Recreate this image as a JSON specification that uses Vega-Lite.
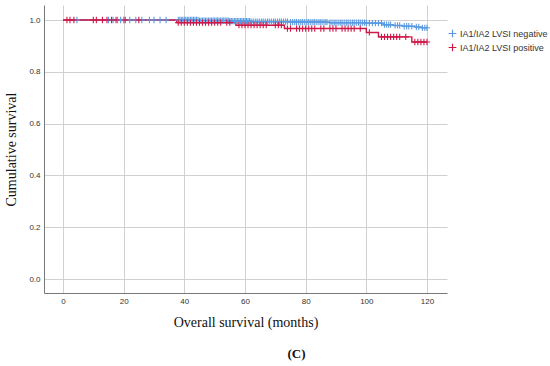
{
  "$schema": "https://vega.github.io/schema/vega-lite/v6.json",
  "width": 403,
  "height": 288,
  "autosize": "none",
  "padding": {"left": 44, "top": 5, "right": 103, "bottom": 73},
  "background": "white",
  "config": {"view": {"stroke": null}},
  "title": {"text": "(C)", "orient": "bottom", "anchor": "middle", "dx": 51, "offset": 19, "font": "Liberation Serif", "fontSize": 13, "fontWeight": "bold", "color": "#111"},
  "datasets": {
    "lines": [
      {"g": "neg", "t": 0, "s": 1}, {"g": "neg", "t": 45, "s": 0.998}, {"g": "neg", "t": 55, "s": 0.996}, {"g": "neg", "t": 62, "s": 0.994}, {"g": "neg", "t": 75, "s": 0.992}, {"g": "neg", "t": 88, "s": 0.99}, {"g": "neg", "t": 100, "s": 0.988}, {"g": "neg", "t": 105.5, "s": 0.982}, {"g": "neg", "t": 109, "s": 0.979}, {"g": "neg", "t": 112, "s": 0.976}, {"g": "neg", "t": 116, "s": 0.973}, {"g": "neg", "t": 118, "s": 0.97}, {"g": "neg", "t": 120, "s": 0.97},
      {"g": "pos", "t": 0, "s": 1}, {"g": "pos", "t": 37.5, "s": 0.99}, {"g": "pos", "t": 57, "s": 0.98}, {"g": "pos", "t": 73, "s": 0.967}, {"g": "pos", "t": 100, "s": 0.952}, {"g": "pos", "t": 104, "s": 0.935}, {"g": "pos", "t": 115, "s": 0.915}, {"g": "pos", "t": 120, "s": 0.915}
    ],
    "censors": [
      {"g": "neg", "t": 4.6, "s": 1}, {"g": "neg", "t": 15, "s": 1}, {"g": "neg", "t": 16.5, "s": 1}, {"g": "neg", "t": 18, "s": 1}, {"g": "neg", "t": 19, "s": 1}, {"g": "neg", "t": 20, "s": 1}, {"g": "neg", "t": 22, "s": 1}, {"g": "neg", "t": 24, "s": 1}, {"g": "neg", "t": 26, "s": 1}, {"g": "neg", "t": 28.5, "s": 1}, {"g": "neg", "t": 30, "s": 1}, {"g": "neg", "t": 32, "s": 1}, {"g": "neg", "t": 34, "s": 1},
      {"g": "neg", "t": 38, "s": 1}, {"g": "neg", "t": 38.5, "s": 1}, {"g": "neg", "t": 39, "s": 1}, {"g": "neg", "t": 39.5, "s": 1}, {"g": "neg", "t": 40, "s": 1}, {"g": "neg", "t": 40.5, "s": 1}, {"g": "neg", "t": 41, "s": 1}, {"g": "neg", "t": 41.5, "s": 1}, {"g": "neg", "t": 42, "s": 1}, {"g": "neg", "t": 42.5, "s": 1}, {"g": "neg", "t": 43, "s": 1}, {"g": "neg", "t": 43.5, "s": 1}, {"g": "neg", "t": 44, "s": 1}, {"g": "neg", "t": 44.5, "s": 1},
      {"g": "neg", "t": 45, "s": 0.998}, {"g": "neg", "t": 45.5, "s": 0.998}, {"g": "neg", "t": 46, "s": 0.998}, {"g": "neg", "t": 46.5, "s": 0.998}, {"g": "neg", "t": 47, "s": 0.998}, {"g": "neg", "t": 47.5, "s": 0.998}, {"g": "neg", "t": 48, "s": 0.998}, {"g": "neg", "t": 48.5, "s": 0.998}, {"g": "neg", "t": 49, "s": 0.998}, {"g": "neg", "t": 49.5, "s": 0.998}, {"g": "neg", "t": 50, "s": 0.998}, {"g": "neg", "t": 50.5, "s": 0.998}, {"g": "neg", "t": 51, "s": 0.998}, {"g": "neg", "t": 51.5, "s": 0.998}, {"g": "neg", "t": 52, "s": 0.998}, {"g": "neg", "t": 52.5, "s": 0.998}, {"g": "neg", "t": 53, "s": 0.998}, {"g": "neg", "t": 53.5, "s": 0.998}, {"g": "neg", "t": 54, "s": 0.998}, {"g": "neg", "t": 54.5, "s": 0.998},
      {"g": "neg", "t": 55, "s": 0.996}, {"g": "neg", "t": 55.5, "s": 0.996}, {"g": "neg", "t": 56, "s": 0.996}, {"g": "neg", "t": 56.5, "s": 0.996}, {"g": "neg", "t": 57, "s": 0.996}, {"g": "neg", "t": 57.5, "s": 0.996}, {"g": "neg", "t": 58, "s": 0.996}, {"g": "neg", "t": 58.5, "s": 0.996}, {"g": "neg", "t": 59, "s": 0.996}, {"g": "neg", "t": 59.5, "s": 0.996}, {"g": "neg", "t": 60, "s": 0.996}, {"g": "neg", "t": 60.5, "s": 0.996}, {"g": "neg", "t": 61, "s": 0.996}, {"g": "neg", "t": 61.5, "s": 0.996},
      {"g": "neg", "t": 62, "s": 0.994}, {"g": "neg", "t": 62.7, "s": 0.994}, {"g": "neg", "t": 63.4, "s": 0.994}, {"g": "neg", "t": 64, "s": 0.994}, {"g": "neg", "t": 64.7, "s": 0.994}, {"g": "neg", "t": 65.4, "s": 0.994}, {"g": "neg", "t": 66, "s": 0.994}, {"g": "neg", "t": 66.7, "s": 0.994}, {"g": "neg", "t": 67.4, "s": 0.994}, {"g": "neg", "t": 68, "s": 0.994}, {"g": "neg", "t": 68.7, "s": 0.994}, {"g": "neg", "t": 69.4, "s": 0.994}, {"g": "neg", "t": 70, "s": 0.994}, {"g": "neg", "t": 70.7, "s": 0.994}, {"g": "neg", "t": 71.4, "s": 0.994}, {"g": "neg", "t": 72, "s": 0.994}, {"g": "neg", "t": 72.7, "s": 0.994}, {"g": "neg", "t": 73.4, "s": 0.994}, {"g": "neg", "t": 74, "s": 0.994},
      {"g": "neg", "t": 75, "s": 0.992}, {"g": "neg", "t": 75.7, "s": 0.992}, {"g": "neg", "t": 76.4, "s": 0.992}, {"g": "neg", "t": 77, "s": 0.992}, {"g": "neg", "t": 77.7, "s": 0.992}, {"g": "neg", "t": 78.4, "s": 0.992}, {"g": "neg", "t": 79, "s": 0.992}, {"g": "neg", "t": 79.7, "s": 0.992}, {"g": "neg", "t": 80.4, "s": 0.992}, {"g": "neg", "t": 81, "s": 0.992}, {"g": "neg", "t": 81.7, "s": 0.992}, {"g": "neg", "t": 82.4, "s": 0.992}, {"g": "neg", "t": 83, "s": 0.992}, {"g": "neg", "t": 83.7, "s": 0.992}, {"g": "neg", "t": 84.4, "s": 0.992}, {"g": "neg", "t": 85, "s": 0.992}, {"g": "neg", "t": 85.7, "s": 0.992}, {"g": "neg", "t": 86.4, "s": 0.992}, {"g": "neg", "t": 87, "s": 0.992},
      {"g": "neg", "t": 88, "s": 0.99}, {"g": "neg", "t": 88.7, "s": 0.99}, {"g": "neg", "t": 89.4, "s": 0.99}, {"g": "neg", "t": 90, "s": 0.99}, {"g": "neg", "t": 90.7, "s": 0.99}, {"g": "neg", "t": 91.4, "s": 0.99}, {"g": "neg", "t": 92, "s": 0.99}, {"g": "neg", "t": 92.7, "s": 0.99}, {"g": "neg", "t": 93.4, "s": 0.99}, {"g": "neg", "t": 94, "s": 0.99}, {"g": "neg", "t": 94.7, "s": 0.99}, {"g": "neg", "t": 95.4, "s": 0.99}, {"g": "neg", "t": 96, "s": 0.99}, {"g": "neg", "t": 96.7, "s": 0.99}, {"g": "neg", "t": 97.4, "s": 0.99}, {"g": "neg", "t": 98, "s": 0.99}, {"g": "neg", "t": 98.7, "s": 0.99}, {"g": "neg", "t": 99.4, "s": 0.99},
      {"g": "neg", "t": 100, "s": 0.988}, {"g": "neg", "t": 101, "s": 0.988}, {"g": "neg", "t": 102, "s": 0.988}, {"g": "neg", "t": 103, "s": 0.988}, {"g": "neg", "t": 104, "s": 0.988}, {"g": "neg", "t": 105, "s": 0.988},
      {"g": "neg", "t": 106, "s": 0.982}, {"g": "neg", "t": 106.7, "s": 0.982}, {"g": "neg", "t": 107.4, "s": 0.982}, {"g": "neg", "t": 108, "s": 0.982},
      {"g": "neg", "t": 109.5, "s": 0.979}, {"g": "neg", "t": 110.3, "s": 0.979}, {"g": "neg", "t": 111, "s": 0.979},
      {"g": "neg", "t": 112.5, "s": 0.976}, {"g": "neg", "t": 113.3, "s": 0.976}, {"g": "neg", "t": 114, "s": 0.976}, {"g": "neg", "t": 115, "s": 0.976},
      {"g": "neg", "t": 116.5, "s": 0.973}, {"g": "neg", "t": 117.3, "s": 0.973},
      {"g": "neg", "t": 118.5, "s": 0.97}, {"g": "neg", "t": 119.3, "s": 0.97}, {"g": "neg", "t": 120, "s": 0.97},
      {"g": "pos", "t": 1.3, "s": 1}, {"g": "pos", "t": 2.3, "s": 1}, {"g": "pos", "t": 3.6, "s": 1}, {"g": "pos", "t": 10, "s": 1}, {"g": "pos", "t": 11, "s": 1}, {"g": "pos", "t": 13, "s": 1}, {"g": "pos", "t": 14.5, "s": 1}, {"g": "pos", "t": 16, "s": 1}, {"g": "pos", "t": 17.5, "s": 1}, {"g": "pos", "t": 20.5, "s": 1}, {"g": "pos", "t": 25, "s": 1},
      {"g": "pos", "t": 38, "s": 0.99}, {"g": "pos", "t": 39, "s": 0.99}, {"g": "pos", "t": 40, "s": 0.99}, {"g": "pos", "t": 41, "s": 0.99}, {"g": "pos", "t": 42, "s": 0.99}, {"g": "pos", "t": 43, "s": 0.99}, {"g": "pos", "t": 44, "s": 0.99}, {"g": "pos", "t": 45, "s": 0.99}, {"g": "pos", "t": 46, "s": 0.99}, {"g": "pos", "t": 47, "s": 0.99}, {"g": "pos", "t": 48, "s": 0.99}, {"g": "pos", "t": 49, "s": 0.99}, {"g": "pos", "t": 50, "s": 0.99}, {"g": "pos", "t": 51, "s": 0.99}, {"g": "pos", "t": 52, "s": 0.99}, {"g": "pos", "t": 54, "s": 0.99}, {"g": "pos", "t": 55, "s": 0.99},
      {"g": "pos", "t": 58, "s": 0.98}, {"g": "pos", "t": 59, "s": 0.98}, {"g": "pos", "t": 60, "s": 0.98}, {"g": "pos", "t": 61, "s": 0.98}, {"g": "pos", "t": 62, "s": 0.98}, {"g": "pos", "t": 63, "s": 0.98}, {"g": "pos", "t": 64, "s": 0.98}, {"g": "pos", "t": 65, "s": 0.98}, {"g": "pos", "t": 66, "s": 0.98}, {"g": "pos", "t": 67, "s": 0.98}, {"g": "pos", "t": 70, "s": 0.98}, {"g": "pos", "t": 71, "s": 0.98}, {"g": "pos", "t": 72, "s": 0.98},
      {"g": "pos", "t": 74, "s": 0.967}, {"g": "pos", "t": 75, "s": 0.967}, {"g": "pos", "t": 77, "s": 0.967}, {"g": "pos", "t": 78, "s": 0.967}, {"g": "pos", "t": 79, "s": 0.967}, {"g": "pos", "t": 80, "s": 0.967}, {"g": "pos", "t": 81, "s": 0.967}, {"g": "pos", "t": 82, "s": 0.967}, {"g": "pos", "t": 83, "s": 0.967}, {"g": "pos", "t": 85, "s": 0.967}, {"g": "pos", "t": 86, "s": 0.967}, {"g": "pos", "t": 88, "s": 0.967}, {"g": "pos", "t": 89, "s": 0.967}, {"g": "pos", "t": 90, "s": 0.967}, {"g": "pos", "t": 92, "s": 0.967}, {"g": "pos", "t": 93, "s": 0.967}, {"g": "pos", "t": 94, "s": 0.967}, {"g": "pos", "t": 95, "s": 0.967}, {"g": "pos", "t": 96, "s": 0.967}, {"g": "pos", "t": 98, "s": 0.967},
      {"g": "pos", "t": 101, "s": 0.952},
      {"g": "pos", "t": 105, "s": 0.935}, {"g": "pos", "t": 106, "s": 0.935}, {"g": "pos", "t": 107, "s": 0.935}, {"g": "pos", "t": 108, "s": 0.935}, {"g": "pos", "t": 109, "s": 0.935}, {"g": "pos", "t": 110, "s": 0.935}, {"g": "pos", "t": 111, "s": 0.935}, {"g": "pos", "t": 113, "s": 0.935},
      {"g": "pos", "t": 116, "s": 0.915}, {"g": "pos", "t": 117, "s": 0.915}, {"g": "pos", "t": 118, "s": 0.915}, {"g": "pos", "t": 119, "s": 0.915}, {"g": "pos", "t": 120, "s": 0.915}
    ]
  },
  "encoding": {
    "x": {"field": "t", "type": "quantitative", "scale": {"domain": [-6.26, 126.6], "nice": false, "zero": false},
      "axis": {"values": [0, 20, 40, 60, 80, 100, 120], "title": "Overall survival (months)", "titleFont": "Liberation Serif", "titleFontSize": 14, "titleFontWeight": "normal", "titleColor": "#111", "titlePadding": 10, "labelFont": "Liberation Sans", "labelFontSize": 8, "labelColor": "#333", "labelPadding": 4, "ticks": false, "domainColor": "#777", "gridColor": "#d0d0d0"}},
    "y": {"field": "s", "type": "quantitative", "scale": {"domain": [-0.054, 1.058], "nice": false, "zero": false},
      "axis": {"values": [0, 0.2, 0.4, 0.6, 0.8, 1.0], "format": ".1f", "title": "Cumulative survival", "titleFont": "Liberation Serif", "titleFontSize": 14, "titleFontWeight": "normal", "titleColor": "#111", "titlePadding": 10, "labelFont": "Liberation Sans", "labelFontSize": 8, "labelColor": "#333", "labelPadding": 4, "ticks": false, "domainColor": "#777", "gridColor": "#d0d0d0"}},
    "color": {"field": "g", "type": "nominal", "scale": {"domain": ["neg", "pos"], "range": ["#5a9ae2", "#cf1848"]},
      "legend": {"title": null, "orient": "none", "legendX": 404, "legendY": 24, "labelExpr": "datum.value == 'neg' ? 'IA1/IA2 LVSI negative' : 'IA1/IA2 LVSI positive'", "labelFont": "Liberation Sans", "labelFontSize": 9, "labelColor": "#333", "symbolType": "M-1,0H1M0,-1V1", "symbolSize": 60, "symbolStrokeWidth": 1.2, "symbolFillColor": "transparent", "rowPadding": 1, "labelOffset": 3}}
  },
  "layer": [
    {"data": {"name": "lines"}, "mark": {"type": "line", "interpolate": "step-after", "strokeWidth": 1.4}},
    {"data": {"name": "censors"}, "mark": {"type": "point", "shape": "M-1,0H1M0,-1V1", "size": 40, "strokeWidth": 1.1, "filled": false, "opacity": 1}}
  ]
}
